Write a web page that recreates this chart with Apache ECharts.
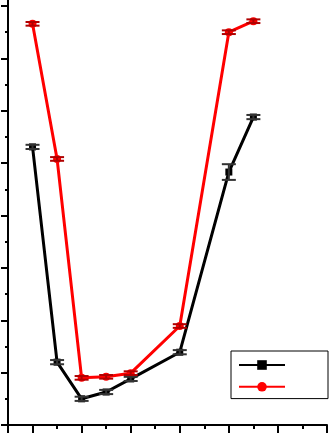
<!DOCTYPE html>
<html><head><meta charset="utf-8">
<script src="https://cdn.jsdelivr.net/npm/echarts@6/dist/echarts.min.js"></script>
<style>html,body{margin:0;padding:0;background:#fff}#c{width:329px;height:434px}</style>
</head><body><div id="c"></div>
<script>
const xValues = [1, 2, 3, 4, 5, 7, 9, 10];
const blackValues = [5.31, 1.20, 0.50, 0.63, 0.88, 1.39, 4.83, 5.88];
const blackErrors = [0.04, 0.04, 0.04, 0.04, 0.04, 0.04, 0.15, 0.04];
const redValues = [7.66, 5.08, 0.90, 0.92, 0.99, 1.89, 7.50, 7.71];
const redErrors = [0.035, 0.035, 0.035, 0.035, 0.035, 0.035, 0.035, 0.035];
const xMajorTicks = [0, 1, 3, 5, 7, 9, 11, 13];
const xMinorTicks = [2, 4, 6, 8, 10, 12];
const yMajorTicks = [0, 1, 2, 3, 4, 5, 6, 7, 8];
const yMinorTicks = [0.5, 1.5, 2.5, 3.5, 4.5, 5.5, 6.5, 7.5];
const seriesNames = ['A', 'B'];

const chart = echarts.init(document.getElementById('c'), null, {renderer: 'canvas'});

function errSeries(vals, errs, color) {
  return {
    type: 'custom', xAxisIndex: 0, yAxisIndex: 0, z: 5, silent: true,
    data: xValues.map((x, i) => [x, vals[i] - errs[i], vals[i] + errs[i]]),
    encode: {x: 0, y: [1, 2]},
    renderItem: (params, api) => {
      const x = api.value(0);
      const lo = api.coord([x, api.value(1)]);
      const hi = api.coord([x, api.value(2)]);
      const hw = 7;
      const st = {stroke: color, lineWidth: 2};
      return {type: 'group', children: [
        {type: 'line', shape: {x1: lo[0], y1: lo[1], x2: hi[0], y2: hi[1]}, style: st},
        {type: 'line', shape: {x1: lo[0] - hw, y1: lo[1], x2: lo[0] + hw, y2: lo[1]}, style: st},
        {type: 'line', shape: {x1: hi[0] - hw, y1: hi[1], x2: hi[0] + hw, y2: hi[1]}, style: st}
      ]};
    }
  };
}

const axisBase = {
  type: 'value', min: 0, splitLine: {show: false}, axisLabel: {show: false}
};

chart.setOption({
  animation: false,
  backgroundColor: '#fff',
  grid: {left: 8, right: 2, top: 0, bottom: 9, containLabel: false},
  legend: {
    show: true, orient: 'vertical', left: 231, top: 351,
    itemWidth: 46, itemHeight: 12, itemGap: 11,
    padding: [8, 42, 7, 7], borderColor: '#000', borderWidth: 1,
    formatter: () => '', data: seriesNames, textStyle: {fontSize: 1},
    selectedMode: false
  },
  xAxis: [
    Object.assign({}, axisBase, {max: 13, position: 'bottom',
      axisLine: {show: true, onZero: false, lineStyle: {color: '#000', width: 2}},
      axisTick: {show: true, customValues: xMajorTicks, length: 8, lineStyle: {color: '#000', width: 2}}}),
    Object.assign({}, axisBase, {max: 13, position: 'bottom',
      axisLine: {show: false, onZero: false},
      axisTick: {show: true, customValues: xMinorTicks, length: 4, lineStyle: {color: '#000', width: 2}}})
  ],
  yAxis: [
    Object.assign({}, axisBase, {max: 8.115, position: 'left',
      axisLine: {show: true, onZero: false, lineStyle: {color: '#000', width: 2}},
      axisTick: {show: true, customValues: yMajorTicks, length: 7, lineStyle: {color: '#000', width: 2}}}),
    Object.assign({}, axisBase, {max: 8.115, position: 'left',
      axisLine: {show: false, onZero: false},
      axisTick: {show: true, customValues: yMinorTicks, length: 3, lineStyle: {color: '#000', width: 2}}})
  ],
  series: [
    {
      name: seriesNames[0], type: 'line', xAxisIndex: 0, yAxisIndex: 0,
      data: xValues.map((x, i) => [x, blackValues[i]]),
      symbol: 'rect', symbolSize: 7, showAllSymbol: true,
      lineStyle: {color: '#000', width: 3}, itemStyle: {color: '#000'}, z: 3
    },
    {
      name: seriesNames[1], type: 'line', xAxisIndex: 0, yAxisIndex: 0,
      data: xValues.map((x, i) => [x, redValues[i]]),
      symbol: 'circle', symbolSize: 8, showAllSymbol: true,
      lineStyle: {color: '#ff0000', width: 3}, itemStyle: {color: '#ff0000'}, z: 4
    },
    errSeries(blackValues, blackErrors, '#333333'),
    errSeries(redValues, redErrors, '#b00000')
  ]
});
</script>
</body></html>
